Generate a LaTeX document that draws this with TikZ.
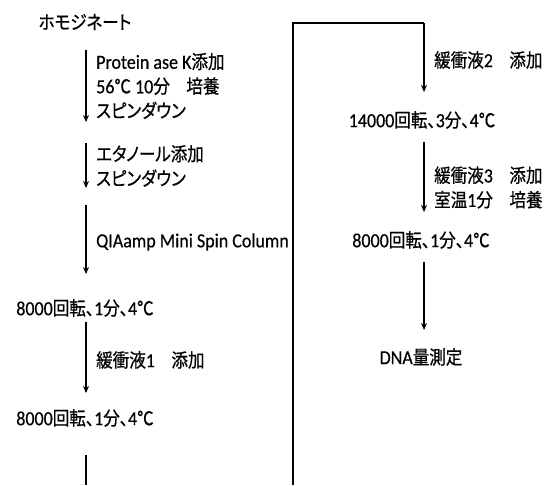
\documentclass[tikz,border=0pt]{standalone}
\usepackage{fontspec}
\setmainfont[FakeStretch=0.9,FakeBold=0.4]{Carlito}
\newfontfamily\jp[Scale=0.95,FakeStretch=0.87,FakeBold=0.6,RawFeature=+palt]{Noto Sans CJK JP}
\newcommand{\J}[1]{{\jp #1}}
\usetikzlibrary{arrows.meta}
\tikzset{
  txt/.style={inner sep=0pt, font=\fontsize{20}{24.5}\selectfont, align=left},
  ctxt/.style={inner sep=0pt, font=\fontsize{20}{24.5}\selectfont, align=center},
  flow/.style={line width=1.2pt, -{Stealth[length=7pt,width=6pt]}},
  thick line/.style={line width=2.6pt}
}
\begin{document}
\begin{tikzpicture}[x=1pt,y=-1pt]
\useasboundingbox (0,0) rectangle (548,485);
% left column
\node[ctxt] (homo) at (85,22) {\J{ホモジネート}};
\coordinate (a1s) at (86,50); \coordinate (a1e) at (86,122);
\draw[flow] (a1s) -- (a1e);
\node[txt, anchor=west] (l1) at (96,86) {Protein ase K\J{添加}\\56\J{℃} 10\J{分　培養}\\\J{スピンダウン}};
\coordinate (a2s) at (86,143); \coordinate (a2e) at (86,188);
\draw[flow] (a2s) -- (a2e);
\node[txt, anchor=west] (l2) at (96,166) {\J{エタノール添加}\\\J{スピンダウン}};
\coordinate (a3s) at (86,205); \coordinate (a3e) at (86,274);
\draw[flow] (a3s) -- (a3e);
\node[txt, anchor=west] (l3) at (96,242) {QIAamp Mini Spin Column};
\node[ctxt] (c1) at (85,308) {8000\J{回転、}1\J{分、}4\J{℃}};
\coordinate (a4s) at (86,322); \coordinate (a4e) at (86,393);
\draw[flow] (a4s) -- (a4e);
\node[txt, anchor=west] (l4) at (96,360) {\J{緩衝液}1\J{　添加}};
\node[ctxt] (c2) at (85,418) {8000\J{回転、}1\J{分、}4\J{℃}};
\coordinate (b1) at (86,455); \coordinate (b2) at (86,485);
\draw[thick line] (b1) -- (b2);
% connector to right column
\coordinate (r0) at (293,485); \coordinate (r1) at (293,23); \coordinate (r2) at (424,23);
\draw[thick line] (r0) -- (r1) -- (r2);
\coordinate (r3) at (424,92);
\draw[flow] (r2) -- (r3);
\node[txt, anchor=west] (l5) at (434,60) {\J{緩衝液}2\J{　添加}};
\node[ctxt] (c3) at (422,120) {14000\J{回転、}3\J{分、}4\J{℃}};
\coordinate (a6s) at (424,142); \coordinate (a6e) at (424,212);
\draw[flow] (a6s) -- (a6e);
\node[txt, anchor=west] (l6) at (434,187.5) {\J{緩衝液}3\J{　添加}\\\J{室温}1\J{分　培養}};
\node[ctxt] (c4) at (421,240) {8000\J{回転、}1\J{分、}4\J{℃}};
\coordinate (a7s) at (424,262); \coordinate (a7e) at (424,330);
\draw[flow] (a7s) -- (a7e);
\node[ctxt] (c5) at (421,357) {DNA\J{量測定}};
\end{tikzpicture}
\end{document}
